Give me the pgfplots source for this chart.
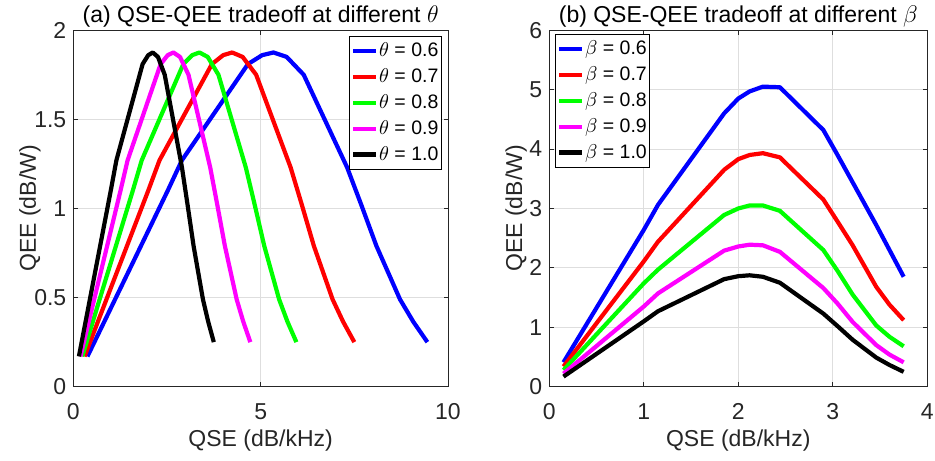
\documentclass[border=0pt]{standalone}
\usepackage{fontspec}
\setmainfont{Liberation Sans}
\usepackage{pgfplots}
\pgfplotsset{compat=1.18}

\definecolor{axgray}{gray}{0.15}
\definecolor{gridgray}{gray}{0.87}
\definecolor{cblue}{rgb}{0,0,1}
\definecolor{cred}{rgb}{1,0,0}
\definecolor{cgreen}{rgb}{0,1,0}
\definecolor{cmag}{rgb}{1,0,1}

\pgfplotsset{
  mystyle/.style={
    scale only axis,
    height=178.25pt,
    axis line style={axgray, line width=0.45pt},
    tick style={axgray, line width=0.45pt},
    major tick length=2.2pt,
    tick align=inside,
    grid=major,
    major grid style={gridgray, line width=0.45pt},
    tick label style={font=\fontsize{11.5}{13}\selectfont, text=axgray},
    label style={font=\fontsize{11.5}{13}\selectfont, text=axgray},
    /pgf/number format/assume math mode=true,
    xticklabel style={anchor=base, yshift=-16.3pt},
    every axis title shift=0pt,
    title style={font=\fontsize{11.5}{13}\selectfont, text=black, at={(axis description cs:0.5,1)}, anchor=base, yshift=4pt},
    xlabel style={at={(axis description cs:0.5,0)}, anchor=base, yshift=-30pt},
    legend cell align=left,
    legend style={font=\fontsize{9.75}{11}\selectfont, draw=black, line width=0.5pt, fill=white,
      inner xsep=0.8pt, inner ysep=1.2pt, row sep=0pt,
      nodes={inner xsep=0.6pt, inner ysep=0pt, text height=9.2pt, text depth=3.7pt}},
    legend image code/.code={\draw[##1, line width=2.1pt] (0pt,0pt) -- (11.3pt,0pt);},
    every axis plot/.append style={line width=2.1pt, line join=round, no markers},
  }
}

\begin{document}
\begin{tikzpicture}
\begin{axis}[mystyle,
  width=187.35pt,
  xmin=0, xmax=10, ymin=0, ymax=2,
  xtick={0,5,10}, ytick={0,0.5,1,1.5,2},
  xlabel={QSE (dB/kHz)}, ylabel={QEE (dB/W)},
  ylabel style={at={(axis description cs:-0.1,0.5)}, anchor=base},
  title={(a) QSE-QEE tradeoff at different $\theta$},
  legend style={at={(axis description cs:1,1)}, anchor=north east, xshift=-3.15pt, yshift=-2.65pt},
]
\addplot[cblue] table {
0.378 0.17
2.520 1.10
2.898 1.27
4.662 1.81
5.040 1.86
5.342 1.875
5.695 1.85
6.149 1.75
7.308 1.23
7.686 1.02
8.089 0.79
8.719 0.49
9.072 0.365
9.450 0.25
};
\addlegendentry{$\theta$ = 0.6}
\addplot[cred] table {
0.30 0.17
2.00 1.10
2.30 1.27
3.70 1.81
4.00 1.86
4.24 1.875
4.52 1.85
4.88 1.75
5.80 1.23
6.10 1.02
6.42 0.79
6.92 0.49
7.20 0.365
7.50 0.25
};
\addlegendentry{$\theta$ = 0.7}
\addplot[cgreen] table {
0.238 0.17
1.588 1.10
1.826 1.27
2.937 1.81
3.175 1.86
3.366 1.875
3.588 1.85
3.874 1.75
4.604 1.23
4.842 1.02
5.096 0.79
5.493 0.49
5.715 0.365
5.954 0.25
};
\addlegendentry{$\theta$ = 0.8}
\addplot[cmag] table {
0.189 0.17
1.260 1.10
1.449 1.27
2.331 1.81
2.520 1.86
2.671 1.875
2.848 1.85
3.074 1.75
3.654 1.23
3.843 1.02
4.045 0.79
4.360 0.49
4.536 0.365
4.725 0.25
};
\addlegendentry{$\theta$ = 0.9}
\addplot[black] table {
0.15 0.17
1.00 1.10
1.15 1.27
1.85 1.81
2.00 1.86
2.12 1.875
2.26 1.85
2.44 1.75
2.90 1.23
3.05 1.02
3.21 0.79
3.46 0.49
3.60 0.365
3.75 0.25
};
\addlegendentry{$\theta$ = 1.0}
\end{axis}

\begin{axis}[mystyle,
  at={(238pt,0pt)}, anchor=south west,
  width=189pt,
  xmin=0, xmax=4, ymin=0, ymax=6,
  xtick={0,1,2,3,4}, ytick={0,1,2,3,4,5,6},
  xlabel={QSE (dB/kHz)}, ylabel={QEE (dB/W)},
  ylabel style={at={(axis description cs:-0.072,0.5)}, anchor=base},
  title={(b) QSE-QEE tradeoff at different $\beta$},
  legend style={at={(axis description cs:0,1)}, anchor=north west, xshift=2.85pt, yshift=-1.65pt},
]
\addplot[cblue] table {
0.15 0.41
1.00 2.64
1.15 3.06
1.85 4.60
2.00 4.85
2.12 4.97
2.26 5.05
2.44 5.04
2.90 4.32
3.05 3.90
3.21 3.44
3.46 2.72
3.60 2.30
3.75 1.85
};
\addlegendentry{$\beta$ = 0.6}
\addplot[cred] table {
0.15 0.34
1.00 2.11
1.15 2.44
1.85 3.65
2.00 3.83
2.12 3.90
2.26 3.93
2.44 3.86
2.90 3.15
3.05 2.78
3.21 2.38
3.46 1.68
3.60 1.38
3.75 1.12
};
\addlegendentry{$\beta$ = 0.7}
\addplot[cgreen] table {
0.15 0.28
1.00 1.74
1.15 1.97
1.85 2.89
2.00 3.00
2.12 3.05
2.26 3.05
2.44 2.96
2.90 2.30
3.05 1.95
3.21 1.55
3.46 1.03
3.60 0.84
3.75 0.68
};
\addlegendentry{$\beta$ = 0.8}
\addplot[cmag] table {
0.15 0.22
1.00 1.35
1.15 1.57
1.85 2.29
2.00 2.36
2.12 2.39
2.26 2.38
2.44 2.27
2.90 1.66
3.05 1.40
3.21 1.09
3.46 0.70
3.60 0.54
3.75 0.41
};
\addlegendentry{$\beta$ = 0.9}
\addplot[black] table {
0.15 0.17
1.00 1.10
1.15 1.27
1.85 1.81
2.00 1.86
2.12 1.875
2.26 1.85
2.44 1.75
2.90 1.23
3.05 1.02
3.21 0.79
3.46 0.49
3.60 0.365
3.75 0.25
};
\addlegendentry{$\beta$ = 1.0}
\end{axis}
\pgfresetboundingbox
\path (-36.65pt,-36.65pt) rectangle (430.85pt,193.35pt);
\end{tikzpicture}
\end{document}
